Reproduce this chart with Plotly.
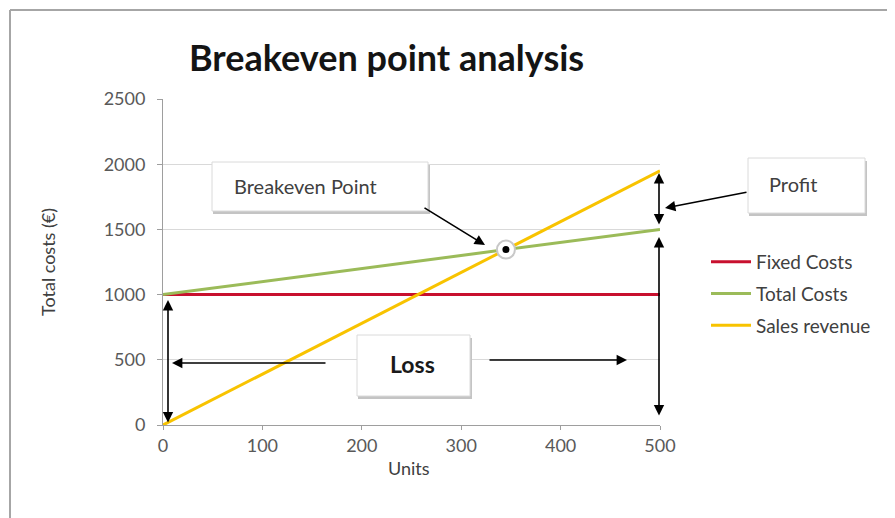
import plotly.graph_objects as go

# ---- data ----
units = [0, 100, 200, 300, 400, 500]
fixed_costs = [1000, 1000, 1000, 1000, 1000, 1000]
total_costs = [1000, 1100, 1200, 1300, 1400, 1500]
sales_revenue = [0, 390, 780, 1170, 1560, 1950]
breakeven_units = [345]
breakeven_value = [1345]
y_ticks = [0, 500, 1000, 1500, 2000, 2500]
x_ticks = [0, 100, 200, 300, 400, 500]

# page body has an 8px margin, so the figure is laid out 8px smaller
OFF = 8
W, H = 895 - OFF, 518 - OFF
L, R, T, B = 163, 660, 99, 425   # plot area in screenshot pixels
PW, PH = R - L, B - T


def px(x):
    return (x - L) / PW


def py(y):
    return (B - y) / PH


FONT = "Lato, 'Open Sans', sans-serif"
TXT = "#404040"

fig = go.Figure()
fig.add_trace(go.Scatter(x=units, y=fixed_costs, mode="lines", name="Fixed Costs",
                         line=dict(color="#C8102E", width=3), legendgroup="a"))
fig.add_trace(go.Scatter(x=units, y=total_costs, mode="lines", name="Total Costs",
                         line=dict(color="#9BBB59", width=3), legendgroup="b"))
fig.add_trace(go.Scatter(x=units, y=sales_revenue, mode="lines", name="Sales revenue",
                         line=dict(color="#F8C300", width=3), legendgroup="c"))
fig.add_trace(go.Scatter(x=breakeven_units, y=breakeven_value, mode="markers", showlegend=False,
                         marker=dict(size=18, color="white", line=dict(color="#C8C8C8", width=2)),
                         hoverinfo="skip"))
fig.add_trace(go.Scatter(x=breakeven_units, y=breakeven_value, mode="markers", showlegend=False,
                         marker=dict(size=7, color="black"), hoverinfo="skip"))

shapes = []
annotations = []

# outer border (left and top)
shapes.append(dict(type="line", xref="paper", yref="paper", x0=px(10), x1=px(10), y0=py(10), y1=py(530),
                   line=dict(color="#A6A6A6", width=2)))
shapes.append(dict(type="line", xref="paper", yref="paper", x0=px(10), x1=px(900), y0=py(10), y1=py(10),
                   line=dict(color="#A6A6A6", width=2)))


def box(x0, y0, x1, y1):
    shapes.append(dict(type="rect", xref="paper", yref="paper", x0=px(x0 + 1), x1=px(x1 + 2),
                       y0=py(y0 + 3), y1=py(y1 + 3), fillcolor="#C4C4C4", line=dict(width=0)))
    shapes.append(dict(type="rect", xref="paper", yref="paper", x0=px(x0), x1=px(x1),
                       y0=py(y0), y1=py(y1), fillcolor="white", line=dict(color="#DADADA", width=1)))


box(212, 162, 428, 211)
box(748, 158, 865, 213)
box(357, 335, 470, 396)

annotations.append(dict(text="Breakeven Point", xref="paper", yref="paper", x=px(232), y=py(186),
                        xanchor="left", yanchor="middle", showarrow=False,
                        font=dict(family=FONT, size=20, color=TXT)))
annotations.append(dict(text="Profit", xref="paper", yref="paper", x=px(767), y=py(184),
                        xanchor="left", yanchor="middle", showarrow=False,
                        font=dict(family=FONT, size=20, color=TXT)))
annotations.append(dict(text="<b>Loss</b>", xref="paper", yref="paper", x=px(412), y=py(364),
                        xanchor="center", yanchor="middle", showarrow=False,
                        font=dict(family=FONT, size=23, color="#1A1A1A")))

# title
annotations.append(dict(text="<b>Breakeven point analysis</b>", xref="paper", yref="paper",
                        x=px(386), y=py(57), xanchor="center", yanchor="middle", showarrow=False,
                        font=dict(family=FONT, size=36, color="#141414")))
# axis titles
annotations.append(dict(text="Units", xref="paper", yref="paper", x=px(409), y=py(468),
                        xanchor="center", yanchor="middle", showarrow=False,
                        font=dict(family=FONT, size=18, color=TXT)))
annotations.append(dict(text="Total costs (€)", xref="paper", yref="paper", x=px(48), y=py(262),
                        xanchor="center", yanchor="middle", showarrow=False, textangle=-90,
                        font=dict(family=FONT, size=18, color=TXT)))


def arrow(head, tail, double=False):
    annotations.append(dict(text="", xref="paper", yref="paper", x=px(head[0]), y=py(head[1]),
                            ax=tail[0] - head[0], ay=tail[1] - head[1], axref="pixel", ayref="pixel",
                            showarrow=True, arrowhead=2, arrowsize=1.3, arrowwidth=1.6,
                            arrowcolor="black", arrowside="end+start" if double else "end",
                            startarrowhead=2, startarrowsize=1.3, standoff=0, startstandoff=0))


arrow((485, 245), (423, 207))
arrow((665, 208), (748, 192))
arrow((659, 173), (659, 226), double=True)
arrow((659, 237), (659, 417), double=True)
arrow((168, 300), (168, 424), double=True)
arrow((172, 363), (327, 363))
arrow((627, 360), (488, 360))

fig.update_layout(
    width=W, height=H,
    margin=dict(l=L - OFF, r=(895 - OFF) - (R - OFF), t=T - OFF, b=(518 - OFF) - (B - OFF), pad=0),
    paper_bgcolor="white", plot_bgcolor="white",
    font=dict(family=FONT, color="#595959"),
    shapes=shapes, annotations=annotations,
    legend=dict(x=px(706), y=py(243), xanchor="left", yanchor="top",
                font=dict(family=FONT, size=19, color=TXT), tracegroupgap=4, itemwidth=40,
                bgcolor="rgba(0,0,0,0)", traceorder="grouped"),
    showlegend=True,
)
fig.update_xaxes(range=[0, 500], tickvals=x_ticks, ticktext=[str(v) for v in x_ticks],
                 showgrid=False, zeroline=False, showline=True, linecolor="#9E9E9E", linewidth=1,
                 ticks="outside", ticklen=4, tickcolor="#9E9E9E",
                 tickfont=dict(family=FONT, size=18, color="#595959"))
fig.update_yaxes(range=[0, 2500], tickvals=y_ticks, ticktext=[str(v) for v in y_ticks],
                 showgrid=True, gridcolor="#D9D9D9", gridwidth=1, zeroline=False,
                 showline=True, linecolor="#9E9E9E", linewidth=1,
                 ticks="outside", ticklen=5, tickcolor="#9E9E9E", ticklabelstandoff=8,
                 tickfont=dict(family=FONT, size=18, color="#595959"))

fig.write_html("out.html")
